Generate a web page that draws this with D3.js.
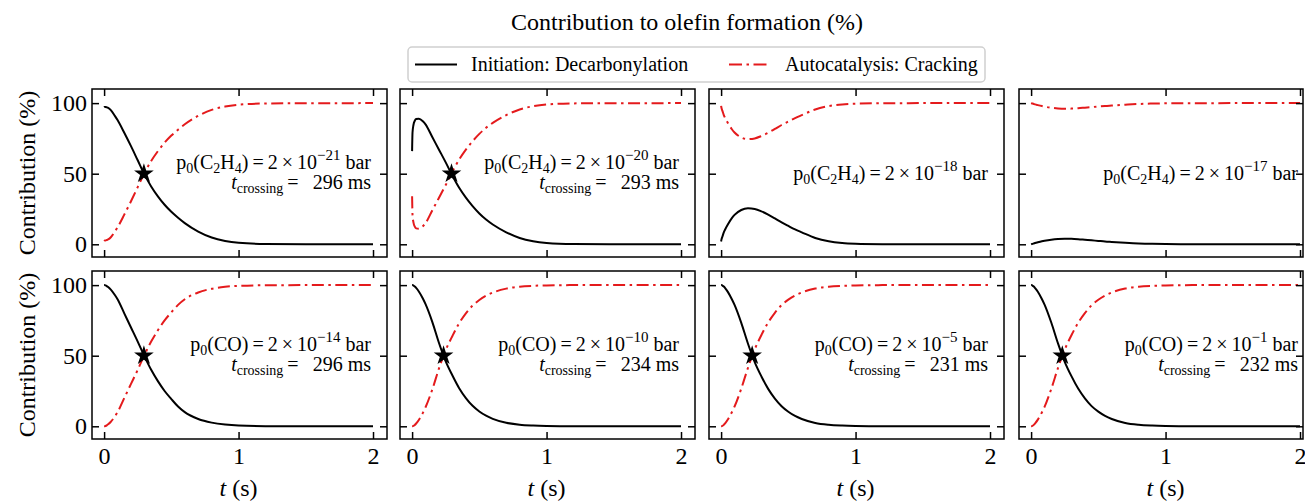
<!DOCTYPE html>
<meta charset="utf-8">
<style>
body { margin: 0; background: #fff; }
svg, svg text { font-family: "Liberation Serif", "Times New Roman", serif; fill: #000; }
.axis path { display: none; }
.axis line { stroke: #000; stroke-width: 1.5; }
</style>
<body>
<script src="https://d3js.org/d3.v7.min.js"></script>
<script>
var width = 1305, height = 501;

// time grid shared by every panel (s)
var tGrid = [0, 0.003, 0.01, 0.02, 0.03, 0.05, 0.08, 0.1, 0.15, 0.2, 0.25, 0.3, 0.35, 0.4, 0.45, 0.5, 0.55, 0.6, 0.7, 0.8, 0.9, 1.0, 1.2, 1.5, 2.0];

// top row: p0(C2H4) series
var initC1 = [97, 97.2, 97.3, 97, 96.6, 95, 91, 88, 79, 69.5, 59.5, 49.5, 41, 34, 28, 23, 18.8, 15, 9, 4.8, 2.4, 1.1, 0.25, 0.05, 0];
var autoC1 = [3, 2.8, 2.7, 3, 3.4, 5, 9, 12, 21, 30.5, 40.5, 50.5, 59, 66, 72, 77, 81.2, 85, 91, 95.2, 97.6, 98.9, 99.75, 99.95, 100];
var initC2 = [66, 79, 84.5, 87.5, 88.7, 89, 87.2, 85, 76, 67, 58, 48.5, 40, 33, 27, 21.8, 17.5, 14, 8.5, 4.5, 2.2, 1, 0.2, 0.05, 0];
var autoC2 = [34, 21, 15.5, 12.5, 11.3, 11, 12.8, 15, 24, 33, 42, 51.5, 60, 67, 73, 78.2, 82.5, 86, 91.5, 95.5, 97.8, 99, 99.8, 99.95, 100];
var initC3 = [2, 3.5, 5.5, 8.5, 10.5, 14, 18.5, 20.8, 24.3, 25.5, 25, 23.3, 21, 18.3, 15.5, 13, 10.6, 8.5, 4.5, 2.1, 0.9, 0.4, 0.1, 0, 0];
var autoC3 = [98, 96.5, 94.5, 91.5, 89.5, 86, 81.5, 79.2, 75.7, 74.5, 75, 76.7, 79, 81.7, 84.5, 87, 89.4, 91.5, 95.5, 97.9, 99.1, 99.6, 99.9, 100, 100];
var initC4 = [0, 0.1, 0.3, 0.6, 0.9, 1.4, 2.1, 2.5, 3.3, 3.8, 4, 3.9, 3.6, 3.2, 2.8, 2.4, 2, 1.7, 1.1, 0.6, 0.3, 0.15, 0.05, 0, 0];
var autoC4 = [100, 99.9, 99.7, 99.4, 99.1, 98.6, 97.9, 97.5, 96.7, 96.2, 96, 96.1, 96.4, 96.8, 97.2, 97.6, 98, 98.3, 98.9, 99.4, 99.7, 99.85, 99.95, 100, 100];

// bottom row: p0(CO) series
var initO1 = [100, 100, 99.8, 99.3, 98.6, 96.8, 93, 90, 80, 70, 60, 49.5, 40, 32, 25, 19.3, 14, 10, 5.2, 2.6, 1.2, 0.5, 0.1, 0, 0];
var autoO1 = [0, 0, 0.2, 0.7, 1.4, 3.2, 7, 10, 20, 30, 40, 50.5, 60, 68, 75, 80.7, 86, 90, 94.8, 97.4, 98.8, 99.5, 99.9, 100, 100];
var initO2 = [100, 100, 99.7, 99, 98, 95.5, 90.5, 86.5, 74, 59, 46, 36, 27, 20, 14.5, 10.5, 7.5, 5.3, 2.5, 1.1, 0.5, 0.2, 0, 0, 0];
var autoO2 = [0, 0, 0.3, 1, 2, 4.5, 9.5, 13.5, 26, 41, 54, 64, 73, 80, 85.5, 89.5, 92.5, 94.7, 97.5, 98.9, 99.5, 99.8, 100, 100, 100];
var initO3 = [100, 100, 99.7, 99, 97.9, 95.2, 90, 86, 73.3, 58.5, 45.5, 35.3, 26.5, 19.6, 14.2, 10.3, 7.3, 5.2, 2.4, 1.1, 0.5, 0.2, 0, 0, 0];
var autoO3 = [0, 0, 0.3, 1, 2.1, 4.8, 10, 14, 26.7, 41.5, 54.5, 64.7, 73.5, 80.4, 85.8, 89.7, 92.7, 94.8, 97.6, 98.9, 99.5, 99.8, 100, 100, 100];
var initO4 = [100, 100, 99.7, 99, 97.9, 95.3, 90.2, 86.2, 73.5, 58.7, 45.7, 35.5, 26.7, 19.8, 14.3, 10.4, 7.4, 5.2, 2.4, 1.1, 0.5, 0.2, 0, 0, 0];
var autoO4 = [0, 0, 0.3, 1, 2.1, 4.7, 9.8, 13.8, 26.5, 41.3, 54.3, 64.5, 73.3, 80.2, 85.7, 89.6, 92.6, 94.8, 97.6, 98.9, 99.5, 99.8, 100, 100, 100];

var initSeries = [initC1, initC2, initC3, initC4, initO1, initO2, initO3, initO4];
var autoSeries = [autoC1, autoC2, autoC3, autoC4, autoO1, autoO2, autoO3, autoO4];
var crossings = [296, 293, null, null, 296, 234, 231, 232]; // ms
var gasNames = ["C2H4", "CO"];
var exponents = ["\u221221", "\u221220", "\u221218", "\u221217", "\u221214", "\u221210", "\u22125", "\u22121"];
var xTicks = [0, 1, 2];
var yTicks = [0, 50, 100];
var legendLabels = ["Initiation: Decarbonylation", "Autocatalysis: Cracking"];

var red = '#e41a1c';
var dashDot = '12,4.5,2.5,4.5';
var serif = '"Liberation Serif", "Times New Roman", serif';

var colLeft = [92, 400, 709, 1019];
var rowTop = [89, 271];
var panelW = 295, panelH = 168;

var svg = d3.select('body').append('svg')
    .attr('width', width).attr('height', height)
    .attr('font-family', serif);

svg.append('text')
    .attr('x', 687).attr('y', 30)
    .attr('text-anchor', 'middle')
    .style('font-size', '24px')
    .text('Contribution to olefin formation (%)');

// legend
var lg = svg.append('g');
lg.append('rect')
    .attr('x', 408).attr('y', 47).attr('width', 577).attr('height', 35)
    .attr('rx', 4).attr('fill', '#fff').attr('stroke', '#d0d0d0').attr('stroke-width', 1.5);
lg.append('line').attr('x1', 415).attr('x2', 457).attr('y1', 64.5).attr('y2', 64.5)
    .attr('stroke', '#000').attr('stroke-width', 2);
lg.append('text').attr('x', 471).attr('y', 71).style('font-size', '20px').text(legendLabels[0]);
lg.append('line').attr('x1', 729).attr('x2', 769).attr('y1', 64.5).attr('y2', 64.5)
    .attr('stroke', red).attr('stroke-width', 2).attr('stroke-dasharray', '13,4.5,2.5,4.5');
lg.append('text').attr('x', 785).attr('y', 71).style('font-size', '20px').text(legendLabels[1]);

// rich text helper: parts = [[text, 'sub'|'sup'|'it'|null], ...]
function rich(sel, parts, size) {
    var shift = 0;
    parts.forEach(function(p) {
        var target = p[1] == 'sub' ? size * 0.22 : (p[1] == 'sup' ? -size * 0.42 : 0);
        var ts = sel.append('tspan').text(p[0]).attr('dy', target - shift);
        if (p[1] == 'sub') ts.style('font-size', (size * 0.7) + 'px');
        if (p[1] == 'sup') ts.style('font-size', (size * 0.75) + 'px');
        if (p[1] == 'it') ts.style('font-style', 'italic');
        shift = target;
    });
}

function drawPanel(k) {
    var row = Math.floor(k / 4), col = k % 4;
    var x0 = colLeft[col], y0 = rowTop[row];
    var x1 = Math.min(x0 + panelW, width - 2);

    var x = d3.scaleLinear().domain([-0.09, 2.104]).range([x0, x0 + panelW]);
    var y = d3.scaleLinear().domain([-9, 110]).range([y0 + panelH, y0]);

    var g = svg.append('g');

    g.append('clipPath').attr('id', 'clip' + k)
        .append('rect').attr('x', x0).attr('y', y0).attr('width', x1 - x0).attr('height', panelH);

    var pts = tGrid.map(function(t, i) { return [t, initSeries[k][i], autoSeries[k][i]]; });

    var lineInit = d3.line().x(function(d) { return x(d[0]); }).y(function(d) { return y(d[1]); })
        .curve(d3.curveMonotoneX);
    var lineAuto = d3.line().x(function(d) { return x(d[0]); }).y(function(d) { return y(d[2]); })
        .curve(d3.curveMonotoneX);

    var plot = g.append('g').attr('clip-path', 'url(#clip' + k + ')');
    plot.append('path').datum(pts).attr('d', lineAuto)
        .attr('fill', 'none').attr('stroke', red).attr('stroke-width', 2)
        .attr('stroke-dasharray', dashDot);
    plot.append('path').datum(pts).attr('d', lineInit)
        .attr('fill', 'none').attr('stroke', '#000').attr('stroke-width', 2);

    if (crossings[k] != null) {
        plot.append('path')
            .attr('d', d3.symbol().type(d3.symbolStar).size(120)())
            .attr('transform', 'translate(' + x(crossings[k] / 1000) + ',' + y(50) + ')')
            .attr('fill', '#000');
    }

    // axes with inward ticks on all four sides
    var ax = g.append('g').attr('class', 'axis');
    ax.append('g').attr('transform', 'translate(' + x0 + ',0)')
        .call(d3.axisLeft(y).tickValues(yTicks).tickSize(-7).tickPadding(5)
            .tickFormat(col == 0 ? d3.format('d') : ''));
    ax.append('g').attr('transform', 'translate(' + x1 + ',0)')
        .call(d3.axisRight(y).tickValues(yTicks).tickSize(-7).tickFormat(''));
    ax.append('g').attr('transform', 'translate(0,' + (y0 + panelH) + ')')
        .call(d3.axisBottom(x).tickValues(xTicks).tickSize(-7).tickPadding(8)
            .tickFormat(row == 1 ? d3.format('d') : ''));
    ax.append('g').attr('transform', 'translate(0,' + y0 + ')')
        .call(d3.axisTop(x).tickValues(xTicks).tickSize(-7).tickFormat(''));
    ax.selectAll('g').attr('font-family', serif).attr('font-size', 24);
    ax.selectAll('text').style('font-size', '24px').attr('font-family', serif);

    g.append('rect')
        .attr('x', x0).attr('y', y0).attr('width', x1 - x0).attr('height', panelH)
        .attr('fill', 'none').attr('stroke', '#000').attr('stroke-width', 1.5);

    // annotation
    var tx = x0 + panelW - 16;
    var gasParts = gasNames[row] == 'CO' ? [['CO', null]] : [['C', null], ['2', 'sub'], ['H', null], ['4', 'sub']];
    var line1 = [['p', null], ['0', 'sub'], ['(', null]].concat(gasParts)
        .concat([[')\u2009=\u20092\u2009\u00d7\u200910', null], [exponents[k], 'sup'], [' bar', null]]);
    var base1 = crossings[k] != null ? y(50) - 5 : y(50) + 6;
    var t1 = g.append('text').attr('x', tx).attr('y', base1)
        .attr('text-anchor', 'end').style('font-size', '20px');
    rich(t1, line1, 20);
    if (crossings[k] != null) {
        var t2 = g.append('text').attr('x', tx).attr('y', y(50) + 15)
            .attr('text-anchor', 'end').style('font-size', '20px');
        rich(t2, [['t', 'it'], ['crossing', 'sub'], ['\u2009=\u2002\u2009' + crossings[k] + ' ms', null]], 20);
    }

    if (col == 0) {
        svg.append('text')
            .attr('transform', 'translate(35,' + (y0 + panelH / 2) + ') rotate(-90)')
            .attr('text-anchor', 'middle')
            .style('font-size', '24px')
            .text('Contribution (%)');
    }
    if (row == 1) {
        var xl = svg.append('text')
            .attr('x', x(1)).attr('y', 496)
            .attr('text-anchor', 'middle')
            .style('font-size', '24px');
        rich(xl, [['t', 'it'], [' (s)', null]], 24);
    }
}

for (var k = 0; k < 8; k++) drawPanel(k);
</script>
</body>
